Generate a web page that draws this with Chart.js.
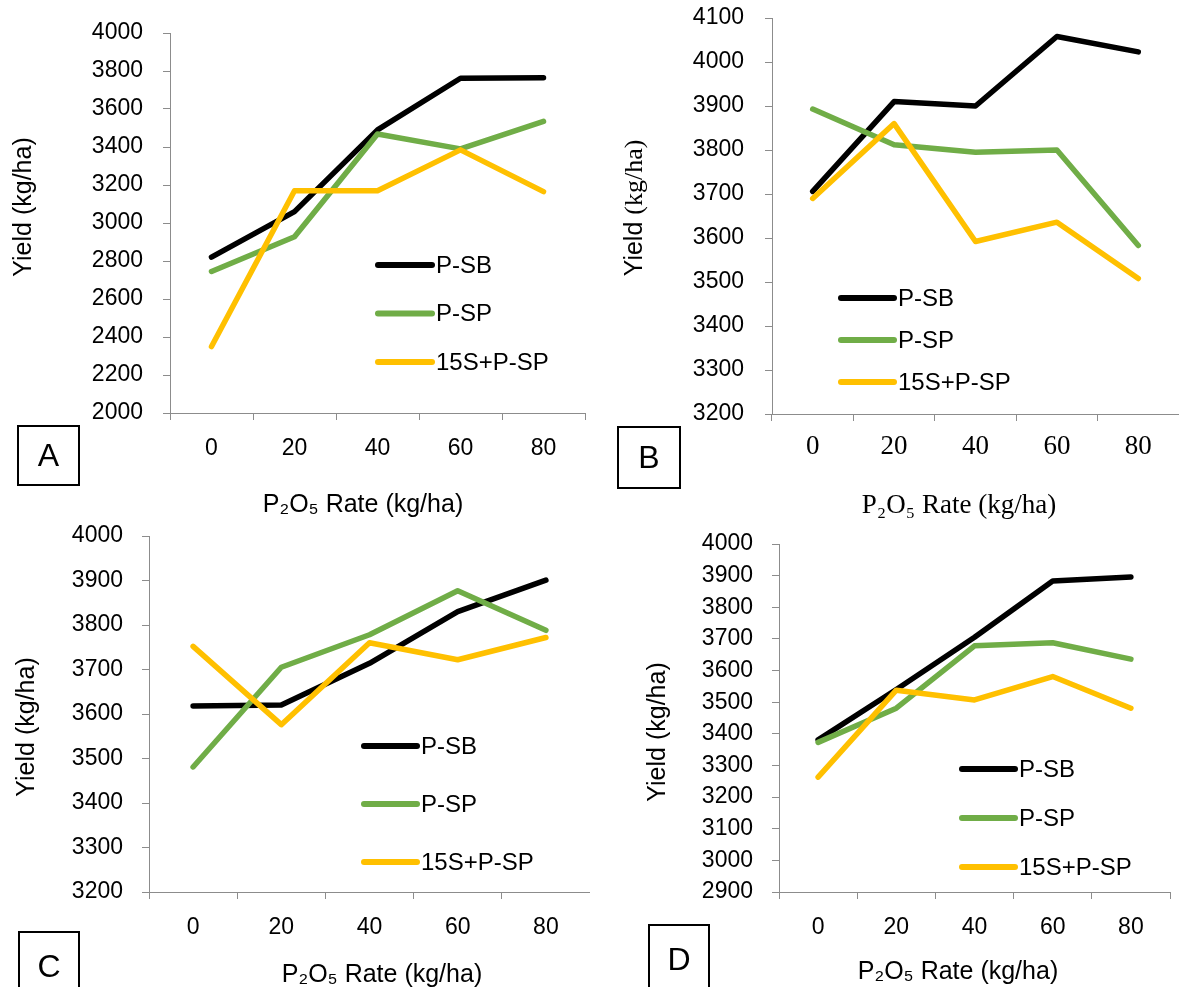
<!DOCTYPE html>
<html>
<head>
<meta charset="utf-8">
<script src="https://cdn.jsdelivr.net/npm/chart.js@4.4.0/dist/chart.umd.min.js"></script>
<style>
  body { margin: 0; background: #fff; }
  #page { position: relative; width: 1179px; height: 987px; overflow: hidden; }
  canvas { position: absolute; }
  .tag {
    position: absolute; box-sizing: border-box; border: 2px solid #000;
    font: 32px "Liberation Sans", Arial, sans-serif; color: #000;
    display: flex; align-items: center; justify-content: center;
  }
</style>
</head>
<body>
<div id="page">
  <canvas id="chartA" width="590" height="520" style="left:0;top:0"></canvas>
  <canvas id="chartB" width="589" height="520" style="left:590px;top:0"></canvas>
  <canvas id="chartC" width="590" height="467" style="left:0;top:520px"></canvas>
  <canvas id="chartD" width="589" height="467" style="left:590px;top:520px"></canvas>
  <div class="tag" style="left:17px;top:425px;width:63px;height:61px">A</div>
  <div class="tag" style="left:617px;top:426px;width:64px;height:63px">B</div>
  <div class="tag" style="left:18px;top:931px;width:62px;height:70px">C</div>
  <div class="tag" style="left:648px;top:924px;width:62px;height:70px">D</div>
</div>
<script>
// P2O5 rates and series names
const rateLabels = ['0', '20', '40', '60', '80'];
const seriesNames = ['P-SB', 'P-SP', '15S+P-SP'];

// panel A
const sbA = [2820, 3060, 3490, 3762, 3765];
const spA = [2745, 2928, 3468, 3390, 3535];
const ssA = [2350, 3170, 3170, 3385, 3165];
// panel B
const sbB = [3706, 3910, 3900, 4058, 4023];
const spB = [3893, 3812, 3795, 3800, 3583];
const ssB = [3690, 3860, 3592, 3636, 3508];
// panel C
const sbC = [3618, 3620, 3714, 3830, 3901];
const spC = [3481, 3705, 3778, 3877, 3788];
const ssC = [3752, 3576, 3760, 3722, 3772];
// panel D
const sbD = [3381, 3540, 3705, 3883, 3896];
const spD = [3373, 3481, 3678, 3688, 3636];
const ssD = [3263, 3538, 3507, 3581, 3481];

const colors = ['#000000', '#70AD47', '#FFC000'];
const axisGray = '#8c8c8c';
const SANS = '"Liberation Sans", Arial, sans-serif';
const SERIF = '"Liberation Serif", "Times New Roman", serif';

// draws axis titles + the in-plot legend
const panelText = {
  id: 'panelText',
  afterDraw(chart, args, o) {
    const ctx = chart.ctx;
    ctx.save();
    ctx.fillStyle = '#000';
    ctx.textBaseline = 'middle';

    const runs = (parts, x, y, rot) => {
      ctx.save();
      ctx.translate(x, y);
      ctx.rotate(rot);
      let total = 0;
      parts.forEach(p => { ctx.font = p[1]; total += ctx.measureText(p[0]).width; });
      let cx = -total / 2;
      ctx.textAlign = 'left';
      parts.forEach(p => { ctx.font = p[1]; ctx.fillText(p[0], cx, 0); cx += ctx.measureText(p[0]).width; });
      ctx.restore();
    };
    runs(o.xTitle, o.xAt[0], o.xAt[1], 0);
    runs(o.yTitle, o.yAt[0], o.yAt[1], -Math.PI / 2);

    // legend
    const L = o.legend;
    chart.data.datasets.forEach((ds, i) => {
      const y = L.y + i * L.gap;
      ctx.strokeStyle = ds.borderColor;
      ctx.lineWidth = 6;
      ctx.lineCap = 'round';
      ctx.beginPath();
      ctx.moveTo(L.x, y);
      ctx.lineTo(L.x + L.len, y);
      ctx.stroke();
      ctx.font = L.font;
      ctx.textAlign = 'left';
      ctx.fillText(ds.label, L.x + L.len + 4, y + 1);
    });
    ctx.restore();
  }
};

function makePanel(id, p) {
  const sets = [p.sb, p.sp, p.ss].map((vals, i) => ({
    label: seriesNames[i],
    data: vals,
    borderColor: colors[i],
    backgroundColor: colors[i],
    borderWidth: 5.5,
    borderCapStyle: 'round',
    borderJoinStyle: 'round',
    pointRadius: 0,
    tension: 0,
    order: 2 - i
  }));
  return new Chart(document.getElementById(id), {
    type: 'line',
    data: { labels: rateLabels, datasets: sets },
    options: {
      responsive: false,
      animation: false,
      devicePixelRatio: 1,
      layout: { padding: { top: p.top, right: p.right, left: 0, bottom: 0 } },
      plugins: {
        legend: { display: false },
        tooltip: { enabled: false },
        panelText: p.text
      },
      scales: {
        x: {
          offset: true,
          grid: { offset: true, drawOnChartArea: false, color: axisGray, tickLength: 7 },
          border: { color: axisGray, width: 1 },
          ticks: { color: '#000', font: p.xFont, padding: p.xPad, maxRotation: 0 },
          afterFit: s => { s.height = p.xh; s.paddingLeft = 0; s.paddingRight = 0; }
        },
        y: {
          min: p.min, max: p.max,
          grid: { drawOnChartArea: false, color: axisGray, tickLength: 7 },
          border: { color: axisGray, width: 1 },
          ticks: {
            stepSize: p.step, color: '#000', font: { family: SANS, size: 23 }, padding: p.yPad,
            callback: v => String(v)
          },
          afterFit: s => { s.width = p.yw; s.paddingTop = 0; s.paddingBottom = 0; }
        }
      }
    },
    plugins: [panelText]
  });
}

const sansTitleX = [['P\u2082O\u2085 Rate (kg/ha)', '25px ' + SANS]];
const sansTitleY = [['Yield (kg/ha)', '25px ' + SANS]];
const legendFont = '24px ' + SANS;

makePanel('chartA', {
  sb: sbA, sp: spA, ss: ssA, min: 2000, max: 4000, step: 200,
  top: 33, right: 5, yw: 170, xh: 107, yPad: 20, xPad: 15,
  xFont: { family: SANS, size: 23 },
  text: { xTitle: sansTitleX, xAt: [363, 505], yTitle: sansTitleY, yAt: [24, 207],
          legend: { x: 378, y: 265, gap: 48.5, len: 54, font: legendFont } }
});

makePanel('chartB', {
  sb: sbB, sp: spB, ss: ssB, min: 3200, max: 4100, step: 100,
  top: 18, right: 0, yw: 182, xh: 106, yPad: 21, xPad: 10,
  xFont: { family: SERIF, size: 27 },
  text: { xTitle: [['P\u2082O\u2085 Rate (kg/ha)', '27px ' + SERIF]], xAt: [369, 506],
          yTitle: [['Yield ', '25px ' + SANS], ['(kg/ha)', '26px ' + SERIF]], yAt: [45, 208],
          legend: { x: 251, y: 298, gap: 42, len: 53, font: legendFont } }
});

makePanel('chartC', {
  sb: sbC, sp: spC, ss: ssC, min: 3200, max: 4000, step: 100,
  top: 16, right: 0, yw: 149, xh: 95, yPad: 19, xPad: 15,
  xFont: { family: SANS, size: 23 },
  text: { xTitle: sansTitleX, xAt: [382, 455], yTitle: sansTitleY, yAt: [27, 207],
          legend: { x: 364, y: 226, gap: 58, len: 53, font: legendFont } }
});

makePanel('chartD', {
  sb: sbD, sp: spD, ss: ssD, min: 2900, max: 4000, step: 100,
  top: 24, right: 9, yw: 189, xh: 95, yPad: 19, xPad: 15,
  xFont: { family: SANS, size: 23 },
  text: { xTitle: sansTitleX, xAt: [368, 452], yTitle: sansTitleY, yAt: [68, 212],
          legend: { x: 372, y: 249, gap: 49, len: 53, font: legendFont } }
});
</script>
</body>
</html>
